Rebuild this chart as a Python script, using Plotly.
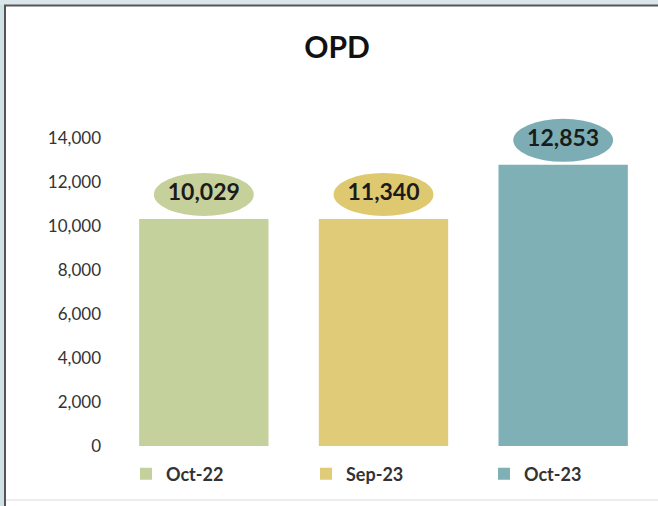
import plotly.graph_objects as go

categories = ["Oct-22", "Sep-23", "Oct-23"]
# bar heights as drawn in the picture
bar_heights = [10320, 10320, 12780]
# values printed in the oval labels
label_values = [10029, 11340, 12853]
bar_colors = ["#c5d19d", "#e0cc78", "#7fb0b6"]
oval_colors = ["#c6d09a", "#dfc970", "#7dadb4"]
y_ticks = [0, 2000, 4000, 6000, 8000, 10000, 12000, 14000]

W, H = 658, 506
L, R, T, B = 114, 5, 105, 60
pw, ph = W - L - R, H - T - B
y_top = 15500
upp = y_top / ph  # data units per pixel

def px(x):
    return (x - L) / pw

def py(y):
    return (H - B - y) / ph

FONT = "Lato"
legend_ids = ["legend", "legend2", "legend3"]
legend_left_px = [126, 306, 484]

fig = go.Figure()
for i, c in enumerate(categories):
    fig.add_trace(go.Bar(
        x=[i], y=[bar_heights[i]], name=c, marker=dict(color=bar_colors[i], line=dict(width=0)),
        width=0.72, hoverinfo="skip", showlegend=True, legend=legend_ids[i],
    ))

gap = 3 * upp
oval_h = 43 * upp
oval_half_w = 0.278
shapes = []
for i, h in enumerate(bar_heights):
    shapes.append(dict(type="circle", xref="x", yref="y", x0=i - oval_half_w, x1=i + oval_half_w,
                       y0=h + gap, y1=h + gap + oval_h, fillcolor=oval_colors[i],
                       line=dict(width=0), layer="below"))

fig.add_trace(go.Scatter(
    x=list(range(len(categories))), y=[h + gap + oval_h / 2 for h in bar_heights],
    mode="text", text=[f"{v:,}" for v in label_values],
    textfont=dict(family=FONT, size=23, color="#1b1b1b", weight="bold"),
    textposition="middle center", showlegend=False, hoverinfo="skip", cliponaxis=False,
))

# frame
shapes += [
    dict(type="rect", xref="paper", yref="paper", x0=px(0), x1=px(4), y0=py(H), y1=py(0),
         fillcolor="#cfe2e6", line=dict(width=0), layer="below"),
    dict(type="rect", xref="paper", yref="paper", x0=px(0), x1=px(W), y0=py(5), y1=py(0),
         fillcolor="#dbe6ea", line=dict(width=0), layer="below"),
    dict(type="path", xref="paper", yref="paper",
         path=f"M {px(5)} {py(H)} L {px(5)} {py(5.5)} L {px(W)} {py(5.5)}",
         line=dict(color="#555555", width=2)),
    dict(type="line", xref="paper", yref="paper", x0=px(6), x1=px(W), y0=py(500), y1=py(500),
         line=dict(color="#e6e6e6", width=1.5)),
]

legend_style = dict(orientation="h", xanchor="left", xref="container", yref="container",
                    y=1 - 474 / H, yanchor="middle", bgcolor="rgba(0,0,0,0)",
                    font=dict(family=FONT, size=18, color="#333333", weight="bold"),
                    itemclick=False, itemdoubleclick=False)
legends = {lid: dict(legend_style, x=legend_left_px[i] / W) for i, lid in enumerate(legend_ids)}

fig.update_layout(
    width=W, height=H, margin=dict(l=L, r=R, t=T, b=B, autoexpand=False),
    paper_bgcolor="white", plot_bgcolor="white",
    font=dict(family=FONT),
    title=dict(text="<b>OPD</b>", x=337 / W, xanchor="center", xref="container",
               y=1 - 47 / H, yanchor="middle", yref="container",
               font=dict(family=FONT, size=30, color="#111111")),
    xaxis=dict(range=[-0.5, 2.5], showticklabels=False, showgrid=False, zeroline=False,
               showline=False, fixedrange=True),
    yaxis=dict(range=[0, y_top], tickvals=y_ticks, tickformat=",", showgrid=False, zeroline=False,
               showline=False, ticklabelstandoff=12,
               tickfont=dict(family=FONT, size=17, color="#333333")),
    barmode="overlay",
    showlegend=True,
    shapes=shapes,
    **legends,
)

fig.write_html("out.html", config={"displayModeBar": False},
               post_script="document.body.style.margin='0';")
